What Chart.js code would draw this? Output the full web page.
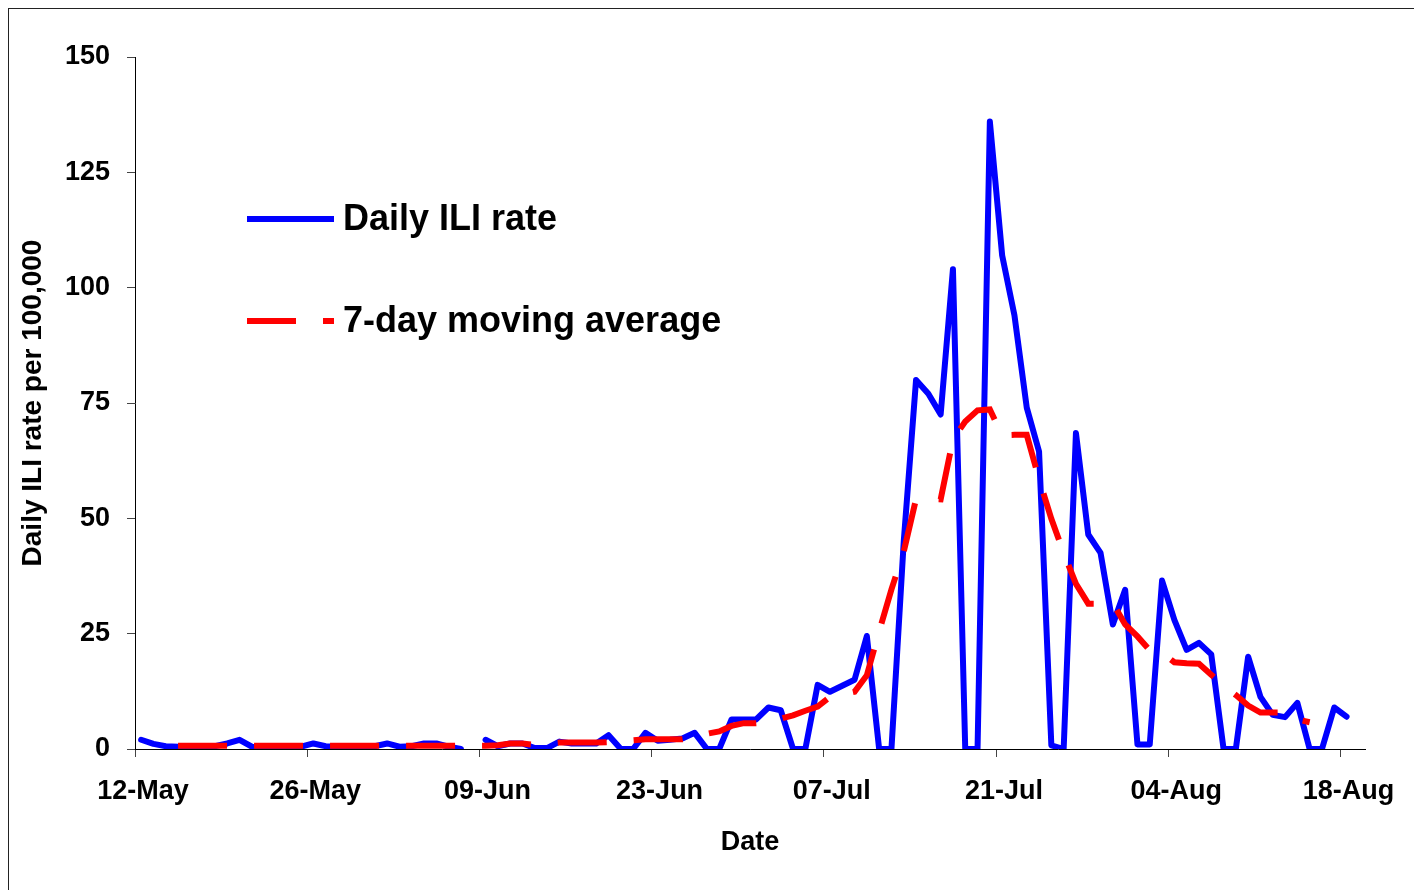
<!DOCTYPE html>
<html>
<head>
<meta charset="utf-8">
<title>Daily ILI rate</title>
<script src="https://cdn.jsdelivr.net/npm/chart.js@4.4.1/dist/chart.umd.min.js"></script>
<style>
  html, body { margin: 0; padding: 0; background: #fff; }
  canvas { display: block; }
</style>
</head>
<body>
<canvas id="iliChart" width="1414" height="890"></canvas>
<script>
// dias desde el 12-May (0 = 12-May, 98 = 18-Aug)
const tickDays = [0, 14, 28, 42, 56, 70, 84, 98];
const tickLabels = ['12-May', '26-May', '09-Jun', '23-Jun', '07-Jul', '21-Jul', '04-Aug', '18-Aug'];
const yTicks = [0, 25, 50, 75, 100, 125, 150];

// tasa diaria (null = sin dato)
const dailyRate = [
    2, 1.1, 0.6, 0.5, 0.5, 0.5, 0.6, 1.2, 2, 0.5,
    0.4, 0.4, 0.4, 0.5, 1.2, 0.6, 0.5, 0.5, 0.5, 0.6,
    1.2, 0.5, 0.6, 1.2, 1.2, 0.5, 0, null, 2, 0.6,
    1.2, 1.2, 0.2, 0.2, 1.6, 1.2, 1.2, 1.2, 3, 0,
    0, 3.5, 1.8, 2, 2.3, 3.5, 0, 0, 6.4, 6.4,
    6.4, 9, 8.4, 0, 0, 13.9, 12.4, 13.7, 15, 24.5,
    0, 0, 45, 80, 77, 72.5, 104, 0, 0, 136,
    107, 94, 74, 64.5, 0.8, 0, 68.5, 46.5, 42.5, 27,
    34.5, 1, 1, 36.5, 28, 21.5, 23, 20.5, 0, 0,
    20, 11.3, 7.4, 6.9, 10, 0, 0, 9, 7
];

// media movil 7 dias
const movingAvg = [
    null, null, null, 0.7, 0.7, 0.7, 0.7, 0.7, 0.7, 0.7,
    0.7, 0.7, 0.7, 0.7, 0.7, 0.7, 0.7, 0.7, 0.7, 0.7,
    0.7, 0.7, 0.7, 0.7, 0.7, 0.7, 0.7, 0.7, 0.7, 0.8,
    1.2, 1.2, 0.9, 1.2, 1.4, 1.4, 1.4, 1.4, 1.5, 1.6,
    1.9, 2.1, 2.1, 2.1, 2.1, 2.6, 3.3, 3.8, 5, 5.6,
    5.6, 5.8, 6.6, 7.3, 8.3, 9.2, 11.3, 11.8, 12.4, 16,
    25.5, 34.6, 42.8, 54.2, 54.2, 54.1, 67.1, 71, 73.4, 73.6,
    68, 68.1, 68.1, 58.5, 49.9, 42.5, 35.8, 31.5, 31.5, 31.6,
    27, 24.4, 21.4, 20.8, 18.8, 18.6, 18.5, 16.1, 13.8, 11.7,
    9.4, 7.9, 7.9, 7.9, 6.4, 5.8, null, null, null
];

const FONT = '"Liberation Sans", Arial, Helvetica, sans-serif';
Chart.defaults.font.family = FONT;
Chart.defaults.color = '#000';

// cada punto va en el centro del dia
function toPoints(values) {
    return values.map((v, i) => ({ x: i + 0.5, y: v }));
}

// fondo blanco + marco
const frame = {
    id: 'frame',
    beforeDraw(chart) {
        const ctx = chart.ctx;
        ctx.save();
        ctx.fillStyle = '#fff';
        ctx.fillRect(0, 0, chart.width, chart.height);
        ctx.restore();
    },
    afterDraw(chart) {
        const ctx = chart.ctx;
        ctx.save();
        ctx.strokeStyle = '#222';
        ctx.lineWidth = 1;
        ctx.strokeRect(8.5, 8.5, chart.width + 20, chart.height + 20);
        ctx.restore();
    }
};

// leyenda dentro del area del grafico
const insideLegend = {
    id: 'insideLegend',
    afterDraw(chart) {
        const ctx = chart.ctx;
        const rows = [
            { ds: chart.data.datasets[0], y: 219 },
            { ds: chart.data.datasets[1], y: 321 }
        ];
        ctx.save();
        rows.forEach(r => {
            ctx.beginPath();
            ctx.strokeStyle = r.ds.borderColor;
            ctx.lineWidth = r.ds.borderWidth;
            ctx.lineCap = 'butt';
            ctx.setLineDash(r.ds.borderDash || []);
            ctx.moveTo(247, r.y);
            ctx.lineTo(334, r.y);
            ctx.stroke();
            ctx.setLineDash([]);
            ctx.fillStyle = '#000';
            ctx.font = 'bold 36px ' + FONT;
            ctx.textBaseline = 'middle';
            ctx.textAlign = 'left';
            ctx.fillText(r.ds.label, 343, r.y + 1);
        });
        ctx.restore();
    }
};

new Chart(document.getElementById('iliChart'), {
    type: 'line',
    data: {
        datasets: [{
            label: 'Daily ILI rate',
            data: toPoints(dailyRate),
            borderColor: '#0000ff',
            borderWidth: 6,
            borderJoinStyle: 'round',
            borderCapStyle: 'round',
            pointRadius: 0,
            tension: 0,
            clip: 0,
            order: 1
        }, {
            label: '7-day moving average',
            data: toPoints(movingAvg),
            borderColor: '#ff0000',
            borderWidth: 6,
            borderDash: [49, 27],
            borderCapStyle: 'butt',
            borderJoinStyle: 'miter',
            pointRadius: 0,
            tension: 0,
            clip: 0,
            order: 0
        }]
    },
    options: {
        responsive: false,
        animation: false,
        devicePixelRatio: 1,
        layout: { padding: { left: 0, top: 57, right: 49, bottom: 0 } },
        plugins: {
            legend: { display: false },
            tooltip: { enabled: false }
        },
        scales: {
            x: {
                type: 'linear',
                min: 0,
                max: 100,
                afterFit(scale) { scale.height = 141; },
                afterBuildTicks(scale) { scale.ticks = tickDays.map(v => ({ value: v })); },
                grid: { drawOnChartArea: false, drawTicks: true, tickLength: 8, color: '#444' },
                border: { display: true, color: '#000', width: 1 },
                ticks: {
                    padding: 18,
                    labelOffset: 8,
                    maxRotation: 0,
                    autoSkip: false,
                    font: { size: 27, weight: 'bold' },
                    callback: (v) => tickLabels[tickDays.indexOf(v)]
                },
                title: {
                    display: true,
                    text: 'Date',
                    font: { size: 27, weight: 'bold' },
                    padding: { top: 0, bottom: 31 }
                }
            },
            y: {
                min: 0,
                max: 150,
                afterFit(scale) { scale.width = 135; },
                afterBuildTicks(scale) { scale.ticks = yTicks.map(v => ({ value: v })); },
                grid: { drawOnChartArea: false, drawTicks: true, tickLength: 8, color: '#444' },
                border: { display: true, color: '#000', width: 1 },
                ticks: {
                    padding: 17,
                    font: { size: 27, weight: 'bold' }
                },
                title: {
                    display: true,
                    text: 'Daily ILI rate per 100,000',
                    font: { size: 28, weight: 'bold' },
                    padding: { top: 16, bottom: 0 }
                }
            }
        }
    },
    plugins: [frame, insideLegend]
});
</script>
</body>
</html>
